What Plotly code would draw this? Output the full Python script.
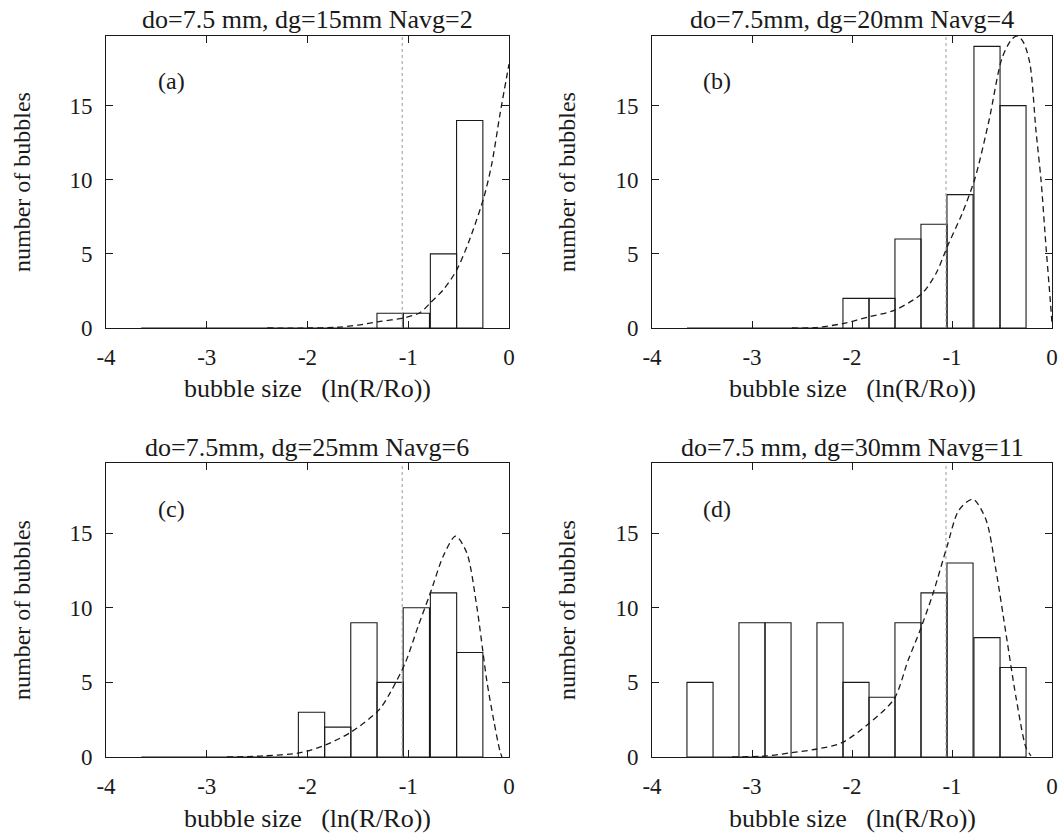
import plotly.graph_objects as go

# ---------------- data ----------------
bin_centers = [-3.52, -3.26, -3.00, -2.74, -2.48, -2.22, -1.96, -1.70, -1.44, -1.18, -0.92, -0.65, -0.39]
bin_width = 0.261

counts_a = [0, 0, 0, 0, 0, 0, 0, 0, 0, 1, 1, 5, 14]
counts_b = [0, 0, 0, 0, 0, 0, 2, 2, 6, 7, 9, 19, 15]
counts_c = [0, 0, 0, 0, 0, 0, 3, 2, 9, 5, 10, 11, 7]
counts_d = [5, 0, 9, 9, 0, 9, 5, 4, 9, 11, 13, 8, 6]

fit_a_x = [-2.4, -2.0, -1.7, -1.5, -1.3, -1.03, -0.88, -0.78, -0.65, -0.52, -0.40, -0.25, -0.17, -0.09, 0.0]
fit_a_y = [0.0, 0.0, 0.05, 0.2, 0.42, 0.7, 1.05, 1.7, 2.6, 3.9, 5.8, 8.8, 11.1, 14.4, 17.8]

fit_b_x = [-2.6, -2.37, -2.09, -1.83, -1.57, -1.30, -1.16, -1.04, -0.90, -0.77, -0.63, -0.50, -0.40, -0.34, -0.28, -0.22, -0.16, -0.11, -0.06, -0.02, 0.0]
fit_b_y = [0.0, 0.02, 0.3, 0.76, 1.21, 2.33, 3.68, 5.6, 7.7, 10.1, 14.0, 18.2, 19.5, 19.7, 19.2, 17.8, 13.3, 10.0, 5.5, 2.1, 0.3]

fit_c_x = [-2.8, -2.44, -2.07, -1.82, -1.56, -1.29, -1.18, -1.03, -0.90, -0.78, -0.65, -0.53, -0.42, -0.32, -0.22, -0.15, -0.09, -0.07]
fit_c_y = [0.0, 0.07, 0.29, 0.81, 1.7, 3.16, 4.3, 6.3, 8.8, 11.0, 13.5, 14.8, 13.7, 10.1, 5.1, 2.4, 0.4, 0.0]

fit_d_x = [-3.2, -2.85, -2.61, -2.36, -2.10, -1.84, -1.58, -1.44, -1.32, -1.19, -1.05, -0.93, -0.79, -0.66, -0.56, -0.46, -0.36, -0.26, -0.21]
fit_d_y = [0.0, 0.07, 0.29, 0.52, 0.96, 2.2, 3.88, 6.46, 8.48, 10.95, 14.1, 16.55, 17.27, 15.9, 12.5, 8.26, 4.0, 0.63, 0.07]

threshold_x = -1.06

titles = ["do=7.5 mm, dg=15mm Navg=2", "do=7.5mm, dg=20mm Navg=4",
          "do=7.5mm, dg=25mm Navg=6", "do=7.5 mm, dg=30mm Navg=11"]
letters = ["(a)", "(b)", "(c)", "(d)"]
x_ticks = [-4, -3, -2, -1, 0]
x_ticklabels = ["-4", "-3", "-2", "-1", "0"]
y_ticks = [0, 5, 10, 15]
x_label = "bubble size   (ln(R/Ro))"
y_label = "number of bubbles"

# ---------------- layout geometry ----------------
W, H = 1059, 835
FONT = "Liberation Serif"
INK = "#1a1a1a"

x_dom = [[106 / W, 509 / W], [652 / W, 1052 / W], [106 / W, 509 / W], [652 / W, 1052 / W]]
y_dom = [[1 - 328 / H, 1 - 36 / H], [1 - 328 / H, 1 - 36 / H],
         [1 - 757 / H, 1 - 463 / H], [1 - 757 / H, 1 - 463 / H]]

fig = go.Figure()

counts = [counts_a, counts_b, counts_c, counts_d]
fits = [(fit_a_x, fit_a_y), (fit_b_x, fit_b_y), (fit_c_x, fit_c_y), (fit_d_x, fit_d_y)]

for i in range(4):
    xa = "x" if i == 0 else f"x{i+1}"
    ya = "y" if i == 0 else f"y{i+1}"
    # threshold dotted line
    fig.add_trace(go.Scatter(x=[threshold_x, threshold_x], y=[0, 19.7], mode="lines",
                             line=dict(color="#9a9a9a", width=1, dash="dot"),
                             xaxis=xa, yaxis=ya, showlegend=False, hoverinfo="skip"))
    fig.add_trace(go.Bar(x=bin_centers, y=counts[i], width=bin_width,
                         marker=dict(color="rgba(255,255,255,0)", line=dict(color=INK, width=1.1)),
                         xaxis=xa, yaxis=ya, showlegend=False))
    fig.add_trace(go.Scatter(x=fits[i][0], y=fits[i][1], mode="lines",
                             line=dict(color=INK, width=1.3, dash="6px,4px", shape="spline", smoothing=0.8),
                             xaxis=xa, yaxis=ya, showlegend=False))

axis_common = dict(showline=True, linecolor=INK, linewidth=1, mirror="ticks", ticks="inside",
                   ticklen=7, tickcolor=INK, showgrid=False, zeroline=False, automargin=False,
                   tickfont=dict(family=FONT, size=23, color=INK))

layout = dict(width=W, height=H, autosize=False, margin=dict(l=0, r=0, t=0, b=0, pad=0),
              paper_bgcolor="white", plot_bgcolor="white", barmode="overlay",
              font=dict(family=FONT, color=INK))

for i in range(4):
    xk = "xaxis" if i == 0 else f"xaxis{i+1}"
    yk = "yaxis" if i == 0 else f"yaxis{i+1}"
    ya = "y" if i == 0 else f"y{i+1}"
    xa = "x" if i == 0 else f"x{i+1}"
    layout[xk] = dict(axis_common, domain=x_dom[i], range=[-4, 0], anchor=ya,
                      tickvals=x_ticks, ticktext=x_ticklabels, ticklabelstandoff=8)
    layout[yk] = dict(axis_common, domain=y_dom[i], range=[0, 19.7], anchor=xa,
                      tickvals=y_ticks, ticklabelstandoff=8)

fig.update_layout(**layout)

ann = []
for i in range(4):
    cx = (x_dom[i][0] + x_dom[i][1]) / 2
    top_px = 20 if i < 2 else 447
    ann.append(dict(text=titles[i], x=cx, y=1 - top_px / H, xref="paper", yref="paper",
                    showarrow=False, xanchor="center", yanchor="middle",
                    font=dict(family=FONT, size=26, color=INK)))
    xl_px = 388 if i < 2 else 818
    ann.append(dict(text=x_label, x=cx, y=1 - xl_px / H, xref="paper", yref="paper",
                    showarrow=False, xanchor="center", yanchor="middle",
                    font=dict(family=FONT, size=26, color=INK)))
    yl_x = 22 if i % 2 == 0 else 567
    cy = (y_dom[i][0] + y_dom[i][1]) / 2
    ann.append(dict(text=y_label, x=yl_x / W, y=cy, xref="paper", yref="paper",
                    showarrow=False, xanchor="center", yanchor="middle", textangle=-90,
                    font=dict(family=FONT, size=24, color=INK)))
    xa = "x" if i == 0 else f"x{i+1}"
    ya = "y" if i == 0 else f"y{i+1}"
    ann.append(dict(text=letters[i], x=-3.35, y=16.65, xref=xa, yref=ya,
                    showarrow=False, xanchor="center", yanchor="middle",
                    font=dict(family=FONT, size=24, color=INK)))

fig.update_layout(annotations=ann)

fig.write_html("out.html", config={"displayModeBar": False},
               post_script="document.body.style.margin='0';document.body.style.padding='0';"
                           "document.documentElement.style.overflow='hidden';")
